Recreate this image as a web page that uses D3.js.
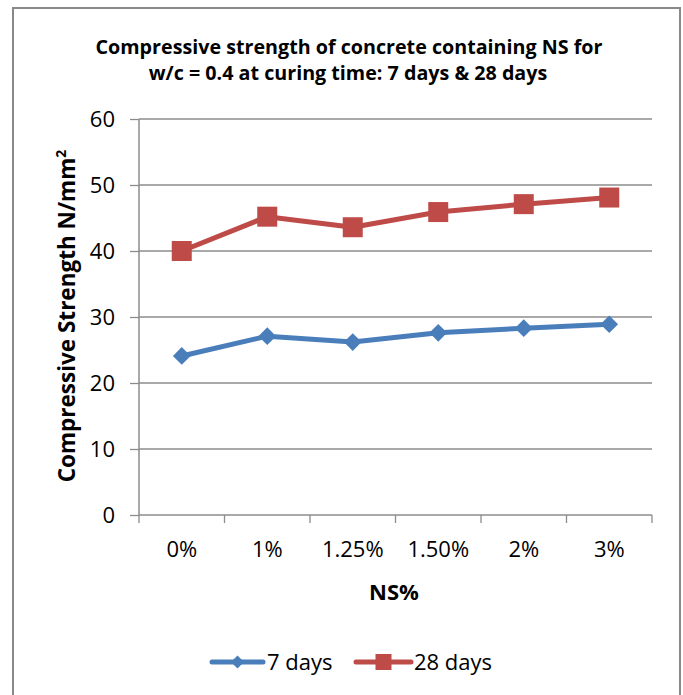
<!DOCTYPE html>
<html><head><meta charset="utf-8">
<script src="https://cdn.jsdelivr.net/npm/d3@7"></script>
<style>
body{margin:0;background:#fff;}
svg{display:block;font-family:"Open Sans",sans-serif;}
</style></head>
<body>
<svg id="c" width="683" height="695"></svg>
<script>
const categories = ["0%","1%","1.25%","1.50%","2%","3%"];
const days7 = [24.1, 27.1, 26.2, 27.6, 28.3, 28.9];
const days28 = [40.0, 45.2, 43.6, 45.9, 47.1, 48.1];
const yTicks = [0,10,20,30,40,50,60];
const seriesNames = ["7 days","28 days"];
const colors = ["#4a7ebb","#be4b48"];

const svg = d3.select("#c");
svg.append("rect").attr("x",13).attr("y",8).attr("width",667).attr("height",700)
  .attr("fill","#fff").attr("stroke","#898989").attr("stroke-width",2);

const x = d3.scaleBand().domain(categories).range([139,652]);
const y = d3.scaleLinear().domain([0,60]).range([515,119]);

// gridlines
svg.append("g").selectAll("line").data(yTicks.filter(d=>d>0)).join("line")
  .attr("x1",139).attr("x2",652).attr("y1",d=>y(d)).attr("y2",d=>y(d))
  .attr("stroke","#8c8c8c").attr("stroke-width",1.3);

// y axis
const ya = svg.append("g").attr("transform","translate(139,0)")
  .call(d3.axisLeft(y).tickValues(yTicks).tickSize(9).tickPadding(15).tickFormat(d3.format("d")));
ya.select(".domain").attr("stroke","#8c8c8c").attr("stroke-width",1.5).attr("d","M0,515V119");
ya.selectAll(".tick line").attr("stroke","#8c8c8c").attr("stroke-width",1.3);
ya.selectAll("text").style("font-size","22px").attr("fill","#000").style("font-family","'Open Sans',sans-serif");

// x axis
const xa = svg.append("g").attr("transform","translate(0,515)")
  .call(d3.axisBottom(x).tickSize(0).tickPadding(26));
xa.select(".domain").attr("stroke","#8c8c8c").attr("stroke-width",1.5).attr("d","M139,0H652");
xa.selectAll("text").style("font-size","22px").attr("fill","#000").style("font-family","'Open Sans',sans-serif");
const bounds = categories.map(c=>x(c)).concat([652]);
svg.append("g").selectAll("line").data(bounds).join("line")
  .attr("x1",d=>d).attr("x2",d=>d).attr("y1",515).attr("y2",523)
  .attr("stroke","#8c8c8c").attr("stroke-width",1.3);

const cx = c => x(c) + x.bandwidth()/2;
const line = d3.line().x((d,i)=>cx(categories[i])).y(d=>y(d));

[days7, days28].forEach((s,k)=>{
  svg.append("path").datum(s).attr("d",line).attr("fill","none")
    .attr("stroke",colors[k]).attr("stroke-width",5).attr("stroke-linejoin","round");
});
// markers
svg.append("g").selectAll("path").data(days7).join("path")
  .attr("d",d3.symbol().type(d3.symbolDiamond2).size(200))
  .attr("transform",(d,i)=>`translate(${cx(categories[i])},${y(d)})`).attr("fill",colors[0]);
svg.append("g").selectAll("rect").data(days28).join("rect")
  .attr("x",(d,i)=>cx(categories[i])-10).attr("y",d=>y(d)-10).attr("width",20).attr("height",20)
  .attr("fill",colors[1]);

// title
const t = svg.append("text").attr("text-anchor","middle").attr("font-weight","bold")
  .style("font-size","19.7px").attr("fill","#000");
t.append("tspan").attr("x",349).attr("y",54).text("Compressive strength of concrete containing NS for");
t.append("tspan").attr("x",348).attr("y",80).text("w/c = 0.4 at curing time: 7 days & 28 days");

// axis titles
const yt = svg.append("text").attr("transform","translate(75,316) rotate(-90)")
  .attr("text-anchor","middle").attr("font-weight","bold").style("font-size","22.5px");
yt.append("tspan").text("Compressive Strength N/mm");
yt.append("tspan").style("font-size","14px").attr("dy",-9).text("2");
svg.append("text").attr("x",394).attr("y",600).attr("text-anchor","middle")
  .attr("font-weight","bold").style("font-size","22px").text("NS%");

// legend
const lg = svg.append("g");
const items = [{x1:212,x2:263,tx:267},{x1:356,x2:411,tx:414}];
items.forEach((it,k)=>{
  lg.append("line").attr("x1",it.x1).attr("x2",it.x2).attr("y1",662).attr("y2",662)
    .attr("stroke",colors[k]).attr("stroke-width",5).attr("stroke-linecap","round");
  const mx=(it.x1+it.x2)/2;
  if(k===0){
    lg.append("path").attr("d",d3.symbol().type(d3.symbolDiamond2).size(110))
      .attr("transform",`translate(${mx},662)`).attr("fill",colors[0]);
  } else {
    lg.append("rect").attr("x",mx-8).attr("y",654).attr("width",16).attr("height",16).attr("fill",colors[1]);
  }
  lg.append("text").attr("x",it.tx).attr("y",670).style("font-size","22px").text(seriesNames[k]);
});
</script>
</body></html>
